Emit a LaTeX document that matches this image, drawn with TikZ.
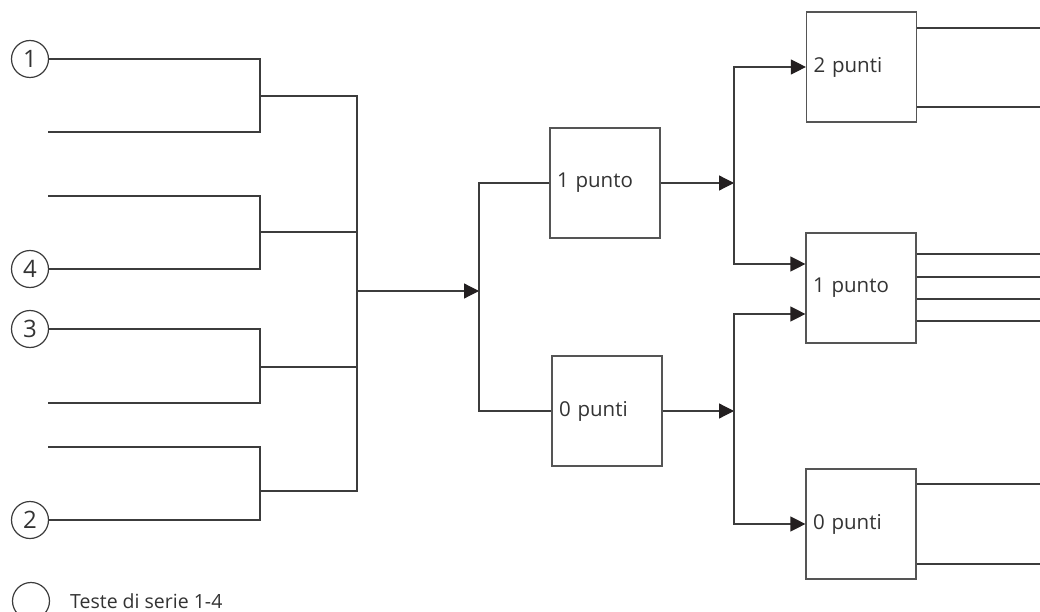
\documentclass[tikz,border=0pt]{standalone}
\usepackage{fontspec}
\setmainfont{Open Sans}
\usetikzlibrary{arrows.meta}
\definecolor{linegray}{HTML}{3C3C3C}
\definecolor{boxgray}{HTML}{555555}
\definecolor{tipblack}{HTML}{231F20}
\definecolor{textgray}{HTML}{333333}
\tikzset{
  seed/.style={circle,draw=linegray,line width=1.2pt,minimum size=37pt,inner sep=0pt,
    text=textgray,font=\fontsize{24}{28}\selectfont},
  scorebox/.style={rectangle,draw=boxgray,line width=1.2pt,minimum width=110pt,minimum height=110pt,
    text width=96pt,inner xsep=7pt,align=left,text=textgray,font=\fontsize{20.5}{25}\selectfont},
  wire/.style={draw=linegray,line width=1.2pt},
  feed/.style={wire,-{Triangle[length=15pt,width=15pt,color=tipblack]}}
}
\begin{document}
\begin{tikzpicture}[x=1pt,y=-1pt]
    \useasboundingbox (0,0) rectangle (1040,612);

    % seeds
    \node [seed] (s1) at (30, 59) {1};
    \node [seed] (s4) at (30, 269) {4};
    \node [seed] (s3) at (30, 329) {3};
    \node [seed] (s2) at (30, 520) {2};
    % open entries
    \coordinate (e1) at (48, 132);
    \coordinate (e2) at (48, 196);
    \coordinate (e3) at (48, 403);
    \coordinate (e4) at (48, 447);
    % first brackets
    \coordinate (a1) at (260, 59);
    \coordinate (a2) at (260, 132);
    \coordinate (a3) at (260, 196);
    \coordinate (a4) at (260, 269);
    \coordinate (a5) at (260, 329);
    \coordinate (a6) at (260, 403);
    \coordinate (a7) at (260, 447);
    \coordinate (a8) at (260, 520);
    \coordinate (m1) at (260, 96);
    \coordinate (m2) at (260, 232);
    \coordinate (m3) at (260, 367);
    \coordinate (m4) at (260, 491);
    % second brackets
    \coordinate (n1) at (357, 96);
    \coordinate (n2) at (357, 232);
    \coordinate (n3) at (357, 367);
    \coordinate (n4) at (357, 491);
    \coordinate (c) at (357, 291);
    \coordinate (j0) at (479, 291);
    \coordinate (k1) at (479, 183);
    \coordinate (k0) at (479, 411);
    % boxes
    \node [scorebox] (b1) at (605, 183) {1 punto};
    \node [scorebox] (b0) at (607, 411) {0 punti};
    \coordinate (j1) at (734, 183);
    \coordinate (j2) at (734, 411);
    \node [scorebox] (r2) at (861.5, 67) {2 punti};
    \node [scorebox] (r1) at (861, 288) {1 punto};
    \node [scorebox] (r0) at (861, 524) {0 punti};
    % legend
    \node [seed] (l0) at (31, 601) {};
    \node [anchor=base west,inner sep=0pt,text=textgray,font=\fontsize{19.5}{24}\selectfont] (l1) at (70, 608) {Teste di serie 1-4};

    % edges
    \draw [wire] (s1.east) -- (a1) -- (a2) -- (e1);
    \draw [wire] (e2) -- (a3) -- (a4) -- (s4.east);
    \draw [wire] (s3.east) -- (a5) -- (a6) -- (e3);
    \draw [wire] (e4) -- (a7) -- (a8) -- (s2.east);
    \draw [wire] (m1) -- (n1) -- (n4) -- (m4);
    \draw [wire] (m2) -- (n2);
    \draw [wire] (m3) -- (n3);
    \draw [feed] (c) -- (j0);
    \draw [wire] (b1.west) -- (k1) -- (k0) -- (b0.west);
    \draw [feed] (b1.east) -- (j1);
    \draw [feed] (b0.east) -- (j2);
    \draw [feed] (j1) |- (r2.west);
    \draw [feed] (j1) |- ([yshift=24pt]r1.west);
    \draw [feed] (j2) |- ([yshift=-26pt]r1.west);
    \draw [feed] (j2) |- (r0.west);
    % outputs
    \foreach \dy in {39,-40}
        \draw [wire] ([yshift=\dy pt]r2.east) -- +(130,0);
    \foreach \dy in {34,11,-11,-33}
        \draw [wire] ([yshift=\dy pt]r1.east) -- +(130,0);
    \foreach \dy in {40,-40}
        \draw [wire] ([yshift=\dy pt]r0.east) -- +(130,0);
\end{tikzpicture}
\end{document}
